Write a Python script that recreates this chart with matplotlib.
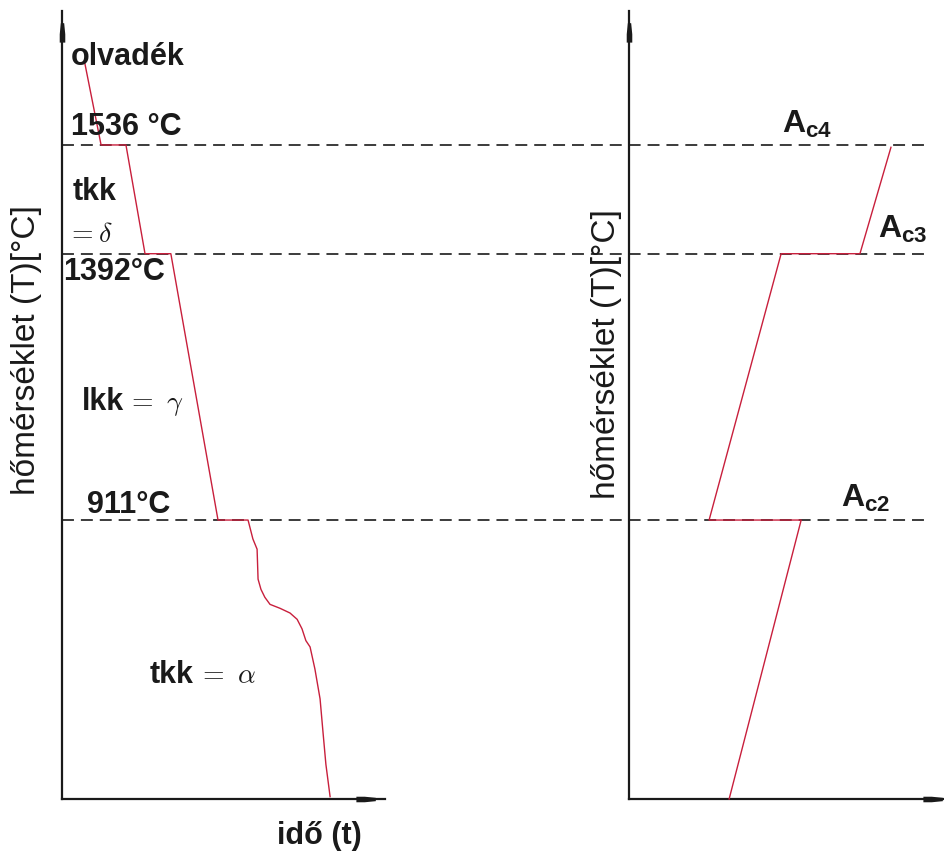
import matplotlib
matplotlib.use('Agg')
import matplotlib.pyplot as plt
from matplotlib import transforms

plt.rcParams['font.family'] = ['Liberation Sans', 'DejaVu Sans']
plt.rcParams['mathtext.fontset'] = 'custom'
plt.rcParams['mathtext.bf'] = 'Liberation Sans:bold'
plt.rcParams['mathtext.rm'] = 'Liberation Sans'
plt.rcParams['lines.scale_dashes'] = False

# schematic levels of the transformation temperatures (0..100 = axis height)
level_T = [83.0, 69.2, 35.4]
level_labels = ['1536 °C', '1392°C', '911°C']

# cooling curve of pure iron (left panel)
cool_t = [0.71, 1.21, 1.98, 2.57, 3.37, 4.83, 5.76, 5.91, 6.04, 6.07, 6.16,
          6.28, 6.44, 6.75, 7.06, 7.28, 7.43, 7.55, 7.68, 7.83, 7.99, 8.08,
          8.17, 8.30]
cool_T = [93.3, 83.0, 83.0, 69.2, 69.2, 35.4, 35.4, 33.0, 31.7, 27.9, 26.6,
          25.6, 24.7, 24.2, 23.6, 22.8, 21.6, 20.1, 19.3, 16.5, 12.7, 8.5,
          4.4, 0.3]

# heating curve (right panel)
heat_t = [3.10, 5.33, 2.48, 4.71, 7.15, 8.11]
heat_T = [0.0, 35.4, 35.4, 69.2, 69.2, 82.7]

red = '#c81f3c'
ink = '#1a1a1a'

fig = plt.figure(figsize=(9.45, 8.54), dpi=100)
ax1 = fig.add_axes([62 / 945, 54 / 854, 323 / 945, 788 / 854])
ax2 = fig.add_axes([629 / 945, 54 / 854, 316 / 945, 788 / 854])
ax1.set_xlim(0, 10)
ax2.set_xlim(0, 316 / 32.3)

up_head = [(-1, -4), (1, -4), (1, -1), (0.6, 3), (-0.6, 3), (-1, -1)]
right_head = [(y, x) for x, y in up_head]

for ax in (ax1, ax2):
    ax.set_ylim(0, 100)
    ax.patch.set_visible(False)
    ax.set_xticks([])
    ax.set_yticks([])
    for s in ('top', 'right'):
        ax.spines[s].set_visible(False)
    for s in ('left', 'bottom'):
        ax.spines[s].set_linewidth(1.6)
        ax.spines[s].set_color(ink)
    # arrow head on the vertical axis
    ax.plot([0], [0.975], transform=ax.transAxes, clip_on=False, ls='none',
            marker=up_head, ms=16, color=ink, mew=0)

ax1.text(-35.5 / 323, (800 - 350) / 788, 'hőmérséklet (T)[°C]',
         transform=ax1.transAxes, rotation=90, ha='center', va='center',
         fontsize=24, color=ink)
ax2.text(-23 / 316, (800 - 354) / 788, 'hőmérséklet (T)[°C]',
         transform=ax2.transAxes, rotation=90, ha='center', va='center',
         fontsize=24, color=ink)

ax1.plot([0.945], [0], transform=ax1.transAxes, clip_on=False, ls='none',
         marker=right_head, ms=16, color=ink, mew=0)
ax2.plot([0.965], [0], transform=ax2.transAxes, clip_on=False, ls='none',
         marker=right_head, ms=16, color=ink, mew=0)

# dashed level lines running across both panels
across = transforms.blended_transform_factory(fig.transFigure, ax1.transData)
for T in level_T:
    ax1.plot([62 / 945, 925 / 945], [T, T], transform=across, clip_on=False,
             color=ink, lw=1.2, dashes=(8.6, 5.0), zorder=1)

ax1.plot(cool_t, cool_T, color=red, lw=1.0, zorder=3)
ax2.plot(heat_t, heat_T, color=red, lw=1.0, zorder=3, clip_on=False)

bold = dict(fontsize=22, fontweight='bold', color=ink, va='baseline')
greek = dict(fontsize=20, math_fontfamily='cm', color=ink, va='baseline')
ax1.text(0.28, 93.3, 'olvadék', **bold)
ax1.text(0.28, 84.4, level_labels[0], **bold)
ax1.text(0.03, 66.0, level_labels[1], **bold)
ax1.text(0.77, 36.4, level_labels[2], **bold)

ax1.text(0.34, 76.1, 'tkk', **bold)
ax1.text(0.14, 70.8, r'$=\delta$', **greek)
ax1.text(0.62, 49.5, 'lkk', **bold)
ax1.text(2.00, 49.5, r'$=\ \gamma$', **greek)
ax1.text(2.72, 14.8, 'tkk', **bold)
ax1.text(4.20, 14.8, r'$=\ \alpha$', **greek)
ax1.text(6.66, -5.6, 'idő (t)', **bold)

sub = dict(bold, fontsize=23)
ax2.text(4.74, 84.6, r'$\mathbf{A_{c4}}$', **sub)
ax2.text(7.71, 71.3, r'$\mathbf{A_{c3}}$', **sub)
ax2.text(6.56, 37.2, r'$\mathbf{A_{c2}}$', **sub)

fig.savefig('out.png', dpi=100)
